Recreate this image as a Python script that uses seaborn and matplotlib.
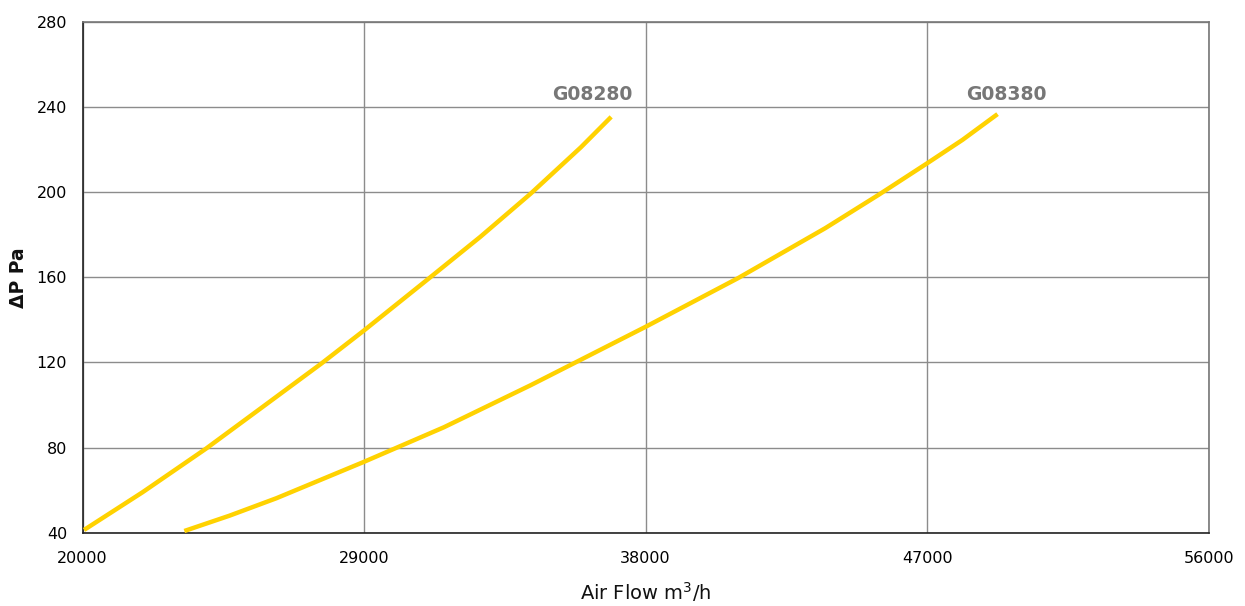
"""
Pressure drop vs air flow curves for G08280 / G08380.
"""

import pandas as pd
import matplotlib.pyplot as plt
import seaborn as sns

# values
g08280_flow = [20050, 21920, 23950, 25770, 27640, 29000, 31070, 32720, 34330, 35930, 36900]
g08280_dp = [41.3, 59, 79.5, 99.2, 119.5, 135, 159.4, 179, 199.3, 221, 235.3]

g08380_flow = [23255, 24700, 26200, 29000, 31550, 34330, 38000, 40960,
               43740, 45460, 47000, 48130, 49250]
g08380_dp = [40.8, 48, 56.2, 73.3, 89.5, 109.3, 136.7, 159.6,
             183, 198.8, 213.5, 224.5, 236.6]

x_ticks = [20000, 29000, 38000, 47000, 56000]
y_ticks = [40, 80, 120, 160, 200, 240, 280]

models = ["G08280", "G08380"]
label_pos = [(36290, 246), (49530, 246)]

df = pd.concat([
    pd.DataFrame({"flow": g08280_flow, "dp": g08280_dp, "model": "G08280"}),
    pd.DataFrame({"flow": g08380_flow, "dp": g08380_dp, "model": "G08380"}),
])

sns.set_style("white")
plt.rcParams['font.family'] = ['DejaVu Sans']

fig = plt.figure(figsize=(12.45, 6.06), dpi=100)
ax = fig.add_axes([82.5 / 1245, 1 - 532.7 / 606, (1208.7 - 82.5) / 1245, (532.7 - 21.7) / 606])

sns.lineplot(data=df, x="flow", y="dp", units="model", estimator=None, sort=False,
             color="#FFD200", linewidth=3.2, ax=ax, zorder=3, solid_capstyle="butt")

ax.set_xlim(20000, 56000)
ax.set_ylim(40, 280)
ax.set_xticks(x_ticks)
ax.set_yticks(y_ticks)
ax.set_xticklabels([str(t) for t in x_ticks])
ax.set_yticklabels([str(t) for t in y_ticks])

ax.grid(True, color="#8c8c8c", linewidth=1.0, zorder=0)
ax.set_axisbelow(True)

for side in ["left", "bottom"]:
    ax.spines[side].set_color("#222222")
    ax.spines[side].set_linewidth(1.2)
for side in ["top", "right"]:
    ax.spines[side].set_color("#777777")
    ax.spines[side].set_linewidth(1.2)

ax.tick_params(axis="both", direction="out", length=7, width=1, color="#222222",
               labelsize=11.5, labelcolor="black")
ax.tick_params(axis="x", pad=6)
ax.tick_params(axis="y", pad=4)

ax.set_xlabel("Air Flow m$^3$/h", fontsize=14, labelpad=10, color="#111111")
ax.set_ylabel("ΔP Pa", fontsize=13.5, fontweight="bold", labelpad=6, color="#111111")

for name, (lx, ly) in zip(models, label_pos):
    ax.text(lx, ly, name, ha="center", va="center", fontsize=13.5,
            fontweight="bold", color="#777777")

fig.savefig("out.png", dpi=100)
